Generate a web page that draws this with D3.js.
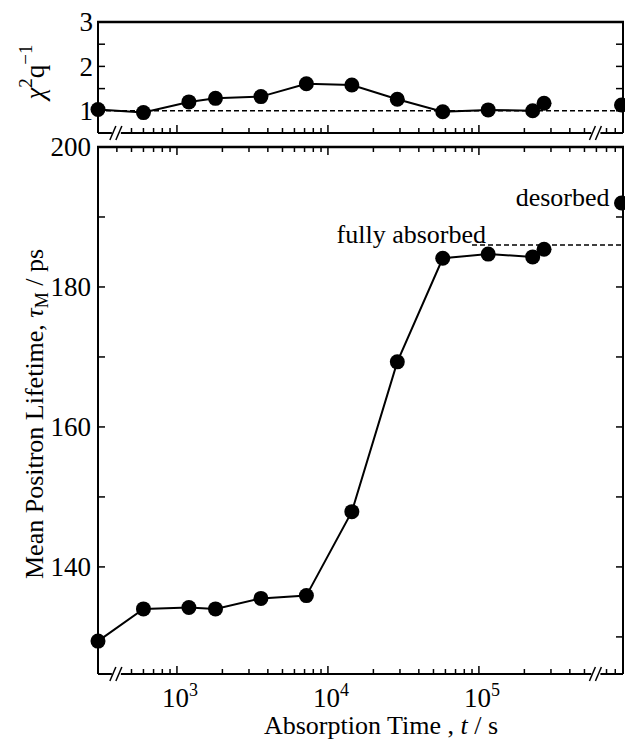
<!DOCTYPE html>
<html><head><meta charset="utf-8">
<script src="https://cdn.jsdelivr.net/npm/d3@7"></script>
<style>
body{margin:0;background:#fff;}
text{font-family:"Liberation Serif","Times New Roman",serif;fill:#000;}
</style>
</head><body>
<svg id="c" width="625" height="739"></svg>
<script>
// ---------- data ----------
const times      = [300, 600, 1200, 1800, 3600, 7200, 14400, 28800, 57600, 115200, 227000, 270000];
const lifetime   = [129.4, 134.0, 134.2, 134.0, 135.5, 135.9, 147.9, 169.3, 184.1, 184.7, 184.3, 185.4];
const chi2q      = [1.03, 0.96, 1.20, 1.28, 1.32, 1.61, 1.58, 1.26, 0.98, 1.02, 1.00, 1.17];
const desorbedTime = 880000;
const desorbedLifetime = 192.0;
const desorbedChi2q = 1.13;
const fullyAbsorbedLevel = 186;
const fullyAbsorbedFrom = 90000;
const chiRefLevel = 1;
const xDomain = [300, 900000];
const breakTimes = [400, 600000];
const xMajorTicks = [1e3, 1e4, 1e5];
const xTickExponents = ["3", "4", "5"];
const tauMajorTicks = [140, 160, 180, 200];
const tauMinorTicks = [130, 150, 170, 190];
const tauDomain = [124.7, 200];
const chiMajorTicks = [1, 2, 3];
const chiMinorTicks = [1.5, 2.5];
const chiDomain = [0.5, 3];

// ---------- layout ----------
const svg = d3.select("#c");
const X0 = 98, X1 = 623;
const TP = {y0: 22, y1: 133};
const BP = {y0: 147, y1: 674};
const x = d3.scaleLog().domain(xDomain).range([X0, X1]);
const yC = d3.scaleLinear().domain(chiDomain).range([TP.y1, TP.y0]);
const yT = d3.scaleLinear().domain(tauDomain).range([BP.y1, BP.y0]);

// all minor x ticks
const xMinor = [];
[100, 1000, 10000, 100000].forEach(d => { for (let m = 2; m <= 9; m++) { const v = d*m; if (v > xDomain[0] && v < xDomain[1]) xMinor.push(v); } });
const breakX = breakTimes.map(t => x(t));
const nearBreak = v => breakX.some(b => Math.abs(x(v) - b) < 5);

const g = svg.append("g");
const line = (x1,y1,x2,y2,w=2) => g.append("line").attr("x1",x1).attr("y1",y1).attr("x2",x2).attr("y2",y2).attr("stroke","#000").attr("stroke-width",w);

function brokenAxis(y) {
  const segs = [[X0, breakX[0]-5], [breakX[0]+4, breakX[1]-5], [breakX[1]+4, X1]];
  segs.forEach(s => line(s[0], y, s[1], y, 2));
  breakX.forEach(b => {
    line(b-7, y+7, b-1, y-7, 1.5);
    line(b-1, y+7, b+5, y-7, 1.5);
  });
}

function xTicks(y, dir, skipBreaks) {
  xMinor.filter(v => !(skipBreaks && nearBreak(v))).forEach(v => line(x(v), y, x(v), y + dir*5, 1.5));
  xMajorTicks.forEach(v => line(x(v), y, x(v), y + dir*8, 1.5));
}

// ---------- top panel frame ----------
line(X0-1, TP.y0, X1+1, TP.y0, 2.5);
line(X0, TP.y0, X0, TP.y1, 2);
line(X1, TP.y0, X1, TP.y1, 2);
brokenAxis(TP.y1);
xTicks(TP.y1, -1, true);
chiMajorTicks.concat(chiMinorTicks).forEach(v => {
  line(X0, yC(v), X0+7, yC(v), 1.5);
  line(X1, yC(v), X1-7, yC(v), 1.5);
});
g.selectAll(".chil").data(chiMajorTicks).join("text")
  .attr("x", X0-5).attr("y", d => yC(d)).attr("dy","0.35em")
  .attr("text-anchor","end").attr("font-size",27).text(d => d);

// ---------- bottom panel frame ----------
line(X0-1, BP.y0, X1+1, BP.y0, 2.5);
line(X0, BP.y0, X0, BP.y1, 2);
line(X1, BP.y0, X1, BP.y1, 2);
brokenAxis(BP.y1);
xTicks(BP.y1, -1, true);
xTicks(BP.y0, 1, false);
tauMajorTicks.concat(tauMinorTicks).forEach(v => {
  line(X0, yT(v), X0+7, yT(v), 1.5);
  line(X1, yT(v), X1-7, yT(v), 1.5);
});
g.selectAll(".taul").data(tauMajorTicks).join("text")
  .attr("x", X0-7).attr("y", d => yT(d)).attr("dy","0.35em")
  .attr("text-anchor","end").attr("font-size",27).text(d => d);

// x tick labels
const xl = g.selectAll(".xl").data(xMajorTicks).join("text")
  .attr("x", d => x(d)+3).attr("y", 707).attr("text-anchor","middle").attr("font-size",27);
xl.append("tspan").text("10");
xl.append("tspan").attr("font-size",18).attr("dy",-11).text((d,i) => xTickExponents[i]);

// axis titles
const xt = g.append("text").attr("x", 381).attr("y", 734).attr("text-anchor","middle").attr("font-size",26);
xt.append("tspan").text("Absorption Time , ");
xt.append("tspan").attr("font-style","italic").text("t");
xt.append("tspan").text(" / s");

const yt = g.append("text").attr("transform","translate(43,414) rotate(-90)").attr("text-anchor","middle").attr("font-size",26);
yt.append("tspan").text("Mean Positron Lifetime, ");
yt.append("tspan").attr("font-style","italic").text("τ");
yt.append("tspan").attr("font-size",18).attr("dy",5).text("M");
yt.append("tspan").attr("dy",-5).text(" / ps");

const ct = g.append("text").attr("transform","translate(44,72) rotate(-90)").attr("text-anchor","middle").attr("font-size",27);
ct.append("tspan").attr("font-style","italic").text("χ");
ct.append("tspan").attr("font-size",19).attr("dy",-12).text("2");
ct.append("tspan").attr("dy",12).text("q");
ct.append("tspan").attr("font-size",19).attr("dy",-12).text("−1");

// ---------- data: top panel ----------
const ptsC = times.map((t,i) => [t, chi2q[i]]);
g.append("line").attr("x1", X0).attr("x2", X1).attr("y1", yC(chiRefLevel)).attr("y2", yC(chiRefLevel))
  .attr("stroke","#000").attr("stroke-width",1.5).attr("stroke-dasharray","5,3");
g.append("path").datum(ptsC).attr("fill","none").attr("stroke","#000").attr("stroke-width",2)
  .attr("d", d3.line().x(d => x(d[0])).y(d => yC(d[1])));
g.selectAll(".pc").data(ptsC.concat([[desorbedTime, desorbedChi2q]])).join("circle")
  .attr("cx", d => x(d[0])).attr("cy", d => yC(d[1])).attr("r", 7.5).attr("fill","#000");

// ---------- data: bottom panel ----------
const ptsT = times.map((t,i) => [t, lifetime[i]]);
g.append("line").attr("x1", x(fullyAbsorbedFrom)).attr("x2", X1).attr("y1", yT(fullyAbsorbedLevel)).attr("y2", yT(fullyAbsorbedLevel))
  .attr("stroke","#000").attr("stroke-width",1.5).attr("stroke-dasharray","5,3");
g.append("path").datum(ptsT).attr("fill","none").attr("stroke","#000").attr("stroke-width",2)
  .attr("d", d3.line().x(d => x(d[0])).y(d => yT(d[1])));
g.selectAll(".pt").data(ptsT.concat([[desorbedTime, desorbedLifetime]])).join("circle")
  .attr("cx", d => x(d[0])).attr("cy", d => yT(d[1])).attr("r", 7.5).attr("fill","#000");

// annotations
g.append("text").attr("x", x(desorbedTime)-12).attr("y", yT(desorbedLifetime)+3)
  .attr("text-anchor","end").attr("font-size",26).text("desorbed");
g.append("text").attr("x", x(fullyAbsorbedFrom)+14).attr("y", yT(fullyAbsorbedLevel)-2)
  .attr("text-anchor","end").attr("font-size",26).text("fully absorbed");
</script>
</body></html>
